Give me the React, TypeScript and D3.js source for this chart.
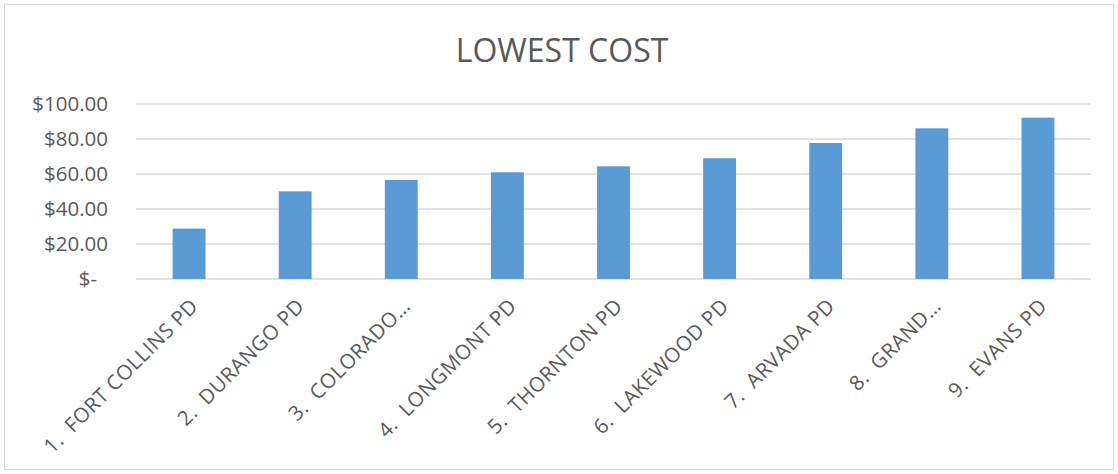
import React from "react";
import * as d3 from "d3";

const categories = [
  "1.  FORT COLLINS PD",
  "2.  DURANGO PD",
  "3.  COLORADO…",
  "4.  LONGMONT PD",
  "5.  THORNTON PD",
  "6.  LAKEWOOD PD",
  "7.  ARVADA PD",
  "8.  GRAND…",
  "9.  EVANS PD",
];
const values = [28.8, 50.1, 56.6, 61, 64.4, 69, 77.7, 86.1, 92.2];
const yTicks = [0, 20, 40, 60, 80, 100];

const W = 1118;
const H = 474;
const margin = { top: 104, right: 27, bottom: 195, left: 136 };
const textColor = "#595959";
const font = "'Open Sans', sans-serif";

const App = () => {
  const x = d3
    .scaleBand<string>()
    .domain(categories)
    .range([margin.left, W - margin.right])
    .paddingInner(0.69)
    .paddingOuter(0.345);
  const y = d3
    .scaleLinear()
    .domain([0, 100])
    .range([H - margin.bottom, margin.top]);
  const fmt = (d: number) => (d === 0 ? "$-" : `$${d3.format(".2f")(d)}`);

  return (
    <svg
      width={W}
      height={H}
      style={{ position: "absolute", left: 0, top: 0, background: "#fff" }}
      fontFamily={font}
    >
      <rect x={4.5} y={4.5} width={W - 9} height={H - 9} fill="#fff" stroke="#d9d9d9" />
      <text x={W / 2 + 3} y={62} textAnchor="middle" fontSize={32} fill={textColor}>
        LOWEST COST
      </text>
      {yTicks.map((t) => (
        <g key={t}>
          <line
            x1={margin.left}
            x2={W - margin.right}
            y1={y(t)}
            y2={y(t)}
            stroke="#d9d9d9"
            strokeWidth={1.5}
          />
          <text
            x={t === 0 ? 97 : 108}
            y={y(t)}
            dy="0.35em"
            textAnchor="end"
            fontSize={20.5}
            fill={textColor}
          >
            {fmt(t)}
          </text>
        </g>
      ))}
      {categories.map((c, i) => (
        <rect
          key={c}
          x={x(c)}
          y={y(values[i])}
          width={x.bandwidth()}
          height={y(0) - y(values[i])}
          fill="#5b9bd5"
        />
      ))}
      {categories.map((c) => {
        const cx = (x(c) ?? 0) + x.bandwidth() / 2;
        return (
          <text
            key={c}
            transform={`translate(${cx},${y(0) + 18}) rotate(-45)`}
            dy="0.72em"
            textAnchor="end"
            fontSize={20.5}
            letterSpacing={0.5}
            fill={textColor}
            style={{ whiteSpace: "pre" }}
          >
            {c}
          </text>
        );
      })}
    </svg>
  );
};

export default App;
